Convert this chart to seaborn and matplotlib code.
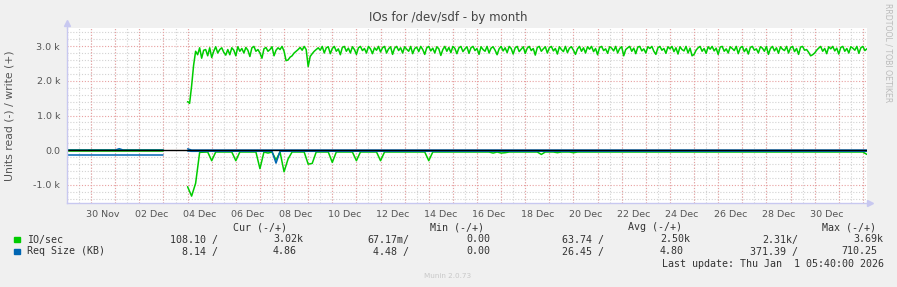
import numpy as np
import pandas as pd
import matplotlib
matplotlib.use("Agg")
import matplotlib.pyplot as plt
import seaborn as sns
from matplotlib.ticker import MultipleLocator, FuncFormatter, FixedLocator

# ---------------- data (days; 30 Nov = 0, 02 Dec = 2, ...) ----------------
pre_start = -1.5          # first sample before the data gap
main_start = 3.5          # first sample after the data gap
step = 1 / 6              # 4-hour samples
write_step = 1 / 12       # 2-hour samples for the write series

pre_write = [0] * 25
pre_read = [-25] * 25
pre_size_write = [5, 5, 5, 5, 5, 5, 5, 5, 5, 5, 5, 5, 5, 45, 5, 5, 5, 5, 5, 5, 5, 5, 5, 5, 5]
pre_size_read = [-145] * 25

io_write = [
    1400, 1350, 1850, 2450, 2850, 2750, 2950, 2650, 2880, 2900,
    2720, 2950, 2670, 2850, 2980, 2800, 2900, 2950, 2820, 2740,
    2900, 2750, 2950, 2880, 2720, 2980, 2850, 2930, 2800, 2960,
    2880, 2700, 2950, 2990, 2850, 2900, 2800, 2650, 2920, 2960,
    2850, 2900, 2980, 2720, 2880, 2950, 2900, 2990, 2850, 2580,
    2600, 2680, 2720, 2800, 2850, 2900, 2960, 2880, 2990, 2900,
    2410, 2700, 2780, 2850, 2900, 2950, 2880, 2990, 2800, 2950,
    2980, 2780, 2930, 2990, 2850, 2920, 2750, 2960, 2990, 2850,
    2940, 2800, 2980, 2900, 2760, 2950, 2990, 2870, 2930, 2800,
    2990, 2920, 2780, 2950, 2880, 2990, 2830, 2950, 2990, 2800,
    2920, 2980, 2760, 2940, 2990, 2870, 2950, 2800, 2980, 2910,
    2850, 2990, 2780, 2930, 2970, 2840, 2990, 2900, 2760, 2950,
    2990, 2860, 2940, 2800, 2980, 2920, 2730, 2900, 2990, 2850,
    2960, 2810, 2990, 2930, 2780, 2950, 2990, 2840, 2920, 2980,
    2790, 2950, 2990, 2870, 2930, 2760, 2980, 2900, 2850, 2990,
    2800, 2940, 2980, 2880, 2750, 2920, 2990, 2860, 2950, 2810,
    2990, 2930, 2770, 2950, 2990, 2840, 2910, 2980, 2790, 2940,
    2990, 2870, 2930, 2740, 2960, 2990, 2850, 2920, 2980, 2800,
    2950, 2990, 2860, 2930, 2770, 2980, 2900, 2840, 2990, 2810,
    2940, 2980, 2880, 2760, 2920, 2990, 2850, 2950, 2800, 2980,
    2910, 2990, 2840, 2930, 2750, 2960, 2990, 2870, 2920, 2790,
    2980, 2940, 2860, 2990, 2800, 2930, 2980, 2720, 2900, 2950,
    2990, 2850, 2940, 2780, 2970, 2990, 2860, 2920, 2800, 2980,
    2930, 2990, 2850, 2760, 2950, 2990, 2880, 2930, 2790, 2980,
    2920, 2990, 2840, 2950, 2770, 2980, 2900, 2860, 2990, 2800,
    2940, 2720, 2760, 2880, 2950, 2990, 2850, 2930, 2790, 2980,
    2910, 2990, 2860, 2940, 2760, 2970, 2990, 2850, 2920, 2800,
    2980, 2930, 2870, 2990, 2780, 2950, 2990, 2840, 2930, 2770,
    2960, 2990, 2880, 2920, 2800, 2980, 2940, 2850, 2990, 2760,
    2930, 2990, 2860, 2950, 2790, 2980, 2910, 2870, 2990, 2800,
    2950, 2990, 2840, 2930, 2760, 2970, 2990, 2880, 2900, 2820,
    2720, 2750, 2800, 2880, 2940, 2990, 2850, 2930, 2780, 2980,
    2920, 2990, 2860, 2940, 2770, 2960, 2990, 2850, 2930, 2800,
    2980, 2940, 2880, 2990, 2790, 2950, 2990, 2870, 2920, 2960,
]
io_read = [
    -1050, -1320, -950, -60, -55, -50, -300, -50, -50, -50,
    -50, -50, -300, -50, -50, -50, -50, -50, -530, -50,
    -80, -50, -280, -50, -620, -250, -50, -50, -50, -50,
    -400, -380, -50, -50, -50, -50, -350, -50, -50, -50,
    -50, -50, -300, -50, -50, -50, -50, -50, -300, -50,
    -50, -50, -50, -50, -50, -50, -50, -50, -50, -50,
    -300, -50, -50, -50, -50, -50, -50, -50, -50, -50,
    -50, -50, -50, -50, -50, -50, -80, -50, -80, -70,
    -50, -50, -50, -50, -50, -50, -50, -50, -120, -50,
    -50, -50, -70, -50, -50, -50, -70, -50, -50, -50,
    -50, -50, -50, -50, -50, -50, -50, -50, -50, -50,
    -50, -50, -50, -50, -50, -50, -50, -50, -50, -50,
    -50, -50, -50, -50, -50, -50, -50, -50, -50, -50,
    -50, -50, -50, -50, -50, -50, -50, -50, -50, -50,
    -50, -50, -50, -50, -50, -50, -50, -50, -50, -50,
    -50, -50, -50, -50, -50, -50, -50, -50, -50, -50,
    -50, -50, -50, -50, -50, -50, -50, -50, -50, -120,
]
size_write = [40] + [5] * 169
size_read = [
    -20, -30, -30, -30, -30, -30, -30, -30, -30, -30,
    -30, -30, -30, -30, -30, -30, -30, -30, -30, -30,
    -30, -30, -370, -30, -30, -30, -30, -30, -30, -30,
] + [-30] * 140

y_ticks = [-1000, 0, 1000, 2000, 3000]
x_label_days = list(range(0, 31, 2))
x_labels = ["30 Nov", "02 Dec", "04 Dec", "06 Dec", "08 Dec", "10 Dec", "12 Dec",
            "14 Dec", "16 Dec", "18 Dec", "20 Dec", "22 Dec", "24 Dec", "26 Dec",
            "28 Dec", "30 Dec"]

legend_names = ["IO/sec", "Req Size (KB)"]
cur_read = ["108.10 /", "8.14 /"]
cur_write = ["3.02k", "4.86"]
min_read = ["67.17m/", "4.48 /"]
min_write = ["0.00", "0.00"]
avg_read = ["63.74 /", "26.45 /"]
avg_write = ["2.50k", "4.80"]
max_read = ["2.31k/", "371.39 /"]
max_write = ["3.69k", "710.25"]

# ---------------- build frames ----------------
def frame(pre_vals, main_vals, main_step=step):
    t_pre = pre_start + step * np.arange(len(pre_vals))
    t_main = main_start + main_step * np.arange(len(main_vals))
    return pd.DataFrame({
        "t": np.concatenate([t_pre, t_main]),
        "v": list(pre_vals) + list(main_vals),
        "seg": [0] * len(pre_vals) + [1] * len(main_vals),
    })

df_io_w = frame(pre_write, io_write, write_step)
df_io_r = frame(pre_read, io_read)
df_sz_w = frame(pre_size_write, size_write)
df_sz_r = frame(pre_size_read, size_read)

# ---------------- figure ----------------
W, H = 897, 287
sns.set_style("white")
plt.rcParams["font.family"] = ["DejaVu Sans"]
fig = plt.figure(figsize=(W / 100, H / 100), dpi=100, facecolor="#F0F0F0")
L, R, T, B = 67, 866.5, 28, 202.7
ax = fig.add_axes([L / W, 1 - B / H, (R - L) / W, (B - T) / H])
ax.set_facecolor("white")

GREEN = "#00CC00"
BLUE = "#0066B3"
for d, c in [(df_io_r, GREEN), (df_io_w, GREEN), (df_sz_r, BLUE), (df_sz_w, BLUE)]:
    sns.lineplot(data=d, x="t", y="v", units="seg", estimator=None, sort=False,
                 color=c, lw=1.1, ax=ax, legend=False, zorder=3)
ax.axhline(0, color="black", lw=1.0, zorder=4)

ax.set_xlim(-1.5, 31.65)
ax.set_ylim(-1510, 3520)

# grid
dots = (0, (1, 1.6))
ax.yaxis.set_major_locator(FixedLocator(y_ticks))
ax.yaxis.set_minor_locator(MultipleLocator(200))
ax.yaxis.set_major_formatter(FuncFormatter(lambda v, p: "0.0" if v == 0 else f"{v/1000:.1f} k"))
ax.set_xticks(x_label_days)
ax.set_xticklabels(x_labels)
ax.xaxis.set_minor_locator(MultipleLocator(0.5))
ax.grid(False)
ax.grid(which="minor", axis="both", color="#D2D2D2", lw=0.8, linestyle=dots, zorder=0)
ax.grid(which="major", axis="y", color="#E8A0A0", lw=0.8, linestyle=dots, zorder=1)
ax.vlines(np.arange(-1.5, 32, 1), 0, 1, transform=ax.get_xaxis_transform(),
          color="#E8A0A0", lw=0.8, linestyles=[dots], zorder=1)
ax.set_axisbelow(True)

ax.tick_params(axis="both", which="major", labelsize=6.8, labelcolor="#555555",
               length=0)
ax.tick_params(axis="x", which="major", pad=5)
ax.tick_params(axis="y", which="major", pad=5)
ax.tick_params(axis="both", which="minor", length=2, color="#D0D0D0", width=0.7)
ax.set_xlabel("")
ax.set_ylabel("")

for s in ["top", "right"]:
    ax.spines[s].set_visible(False)
AXC = "#C8C8F0"
for s in ["left", "bottom"]:
    ax.spines[s].set_color(AXC)
    ax.spines[s].set_linewidth(1.0)
    ax.spines[s].set_zorder(5)
ax.plot([0, 0], [1, 1.025], color=AXC, lw=1.0, transform=ax.transAxes, clip_on=False)
ax.plot([1, 1.004], [0, 0], color=AXC, lw=1.0, transform=ax.transAxes, clip_on=False)
ax.plot([0], [1.03], marker="^", ms=5, color=AXC, transform=ax.transAxes, clip_on=False)
ax.plot([1.004], [0], marker=">", ms=5, color=AXC, transform=ax.transAxes, clip_on=False)

# ---------------- texts ----------------
def px(x, y, s, **kw):
    fig.text(x / W, 1 - y / H, s, **kw)

px(448, 18, "IOs for /dev/sdf - by month", ha="center", va="center",
   fontsize=8.5, color="#444444")
px(10, 116, "Units read (-) / write (+)", ha="center", va="center",
   rotation=90, fontsize=7.8, color="#555555")
px(888, 53, "RRDTOOL / TOBI OETIKER", ha="center", va="center",
   rotation=270, fontsize=5.6, color="#BBBBBB")

mono = dict(family="DejaVu Sans Mono", fontsize=7.2, color="#333333", va="center")
px(233, 227, "Cur (-/+)", ha="left", **mono)
px(430, 227, "Min (-/+)", ha="left", **mono)
px(628, 227, "Avg (-/+)", ha="left", **mono)
px(822, 227, "Max (-/+)", ha="left", **mono)

rows_y = [239.5, 251.5]
colors = [GREEN, BLUE]
for k in range(2):
    y = rows_y[k]
    fig.patches.append(plt.Rectangle((14 / W, 1 - (y + 2.8) / H), 5.5 / W, 5.5 / H,
                                     transform=fig.transFigure, color=colors[k],
                                     figure=fig))
    px(26.7, y, legend_names[k], ha="left", **mono)
    px(218, y, cur_read[k], ha="right", **mono)
    px(273, y, cur_write[k], ha="left", **mono)
    px(409, y, min_read[k], ha="right", **mono)
    px(466.7, y, min_write[k], ha="left", **mono)
    px(561.7, y, avg_read[k], ha="left", **mono)
    px(660, y, avg_write[k], ha="left", **mono)
    px(798, y, max_read[k], ha="right", **mono)
    px(877 if k else 883, y, max_write[k], ha="right", **mono)

px(661.7, 264, "Last update: Thu Jan  1 05:40:00 2026", ha="left", **mono)
px(448, 276.5, "Munin 2.0.73", ha="center", va="center", fontsize=5.2, color="#C8C8C8")

fig.savefig("out.png", dpi=100, facecolor=fig.get_facecolor())
